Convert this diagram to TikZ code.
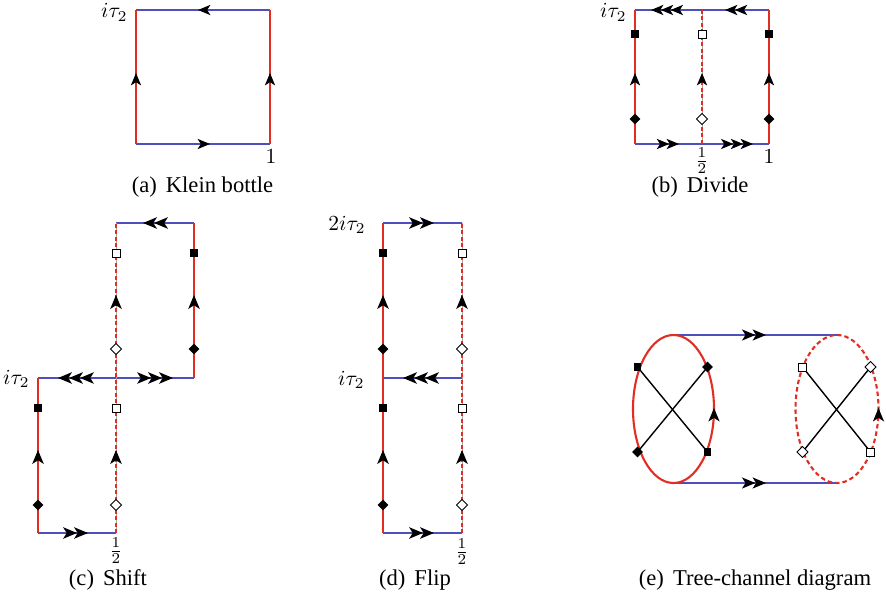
\documentclass[tikz,border=0pt]{standalone}
\usepackage{fontspec}
\setmainfont{Liberation Serif}
\usetikzlibrary{shapes.geometric}
\definecolor{myred}{RGB}{226,45,35}
\definecolor{myblue}{RGB}{78,78,188}
\definecolor{mygray}{RGB}{165,165,165}
\tikzset{
  redl/.style={draw=myred, line width=2.4pt},
  bluel/.style={draw=myblue, line width=2.1pt},
  dashl/.style={draw=myred, line width=2.4pt, dash pattern=on 4pt off 2.5pt,
    preaction={draw=mygray, line width=1pt, solid}},
  crossl/.style={draw=black, line width=1.4pt},
  fsq/.style={rectangle, fill=black, minimum size=7.5pt, inner sep=0pt},
  osq/.style={rectangle, draw=black, fill=white, line width=0.9pt, minimum size=8pt, inner sep=0pt},
  fdm/.style={diamond, fill=black, minimum size=11pt, inner sep=0pt},
  odm/.style={diamond, draw=black, fill=white, line width=0.9pt, minimum size=11.5pt, inner sep=0pt},
  pics/tips/.style={code={
    \foreach \k [evaluate=\k as \d using -(\k-1)*9.8] in {1,...,#1}
      {\fill[black] (\d,0) -- (\d-12.5,5.2) -- (\d-9.2,0) -- (\d-12.5,-5.2) -- cycle;}
  }},
  lab/.style={font=\fontsize{10}{12}\selectfont, inner sep=0pt, scale=2.15, transform shape},
  captxt/.style={font=\fontsize{22.6}{27}\selectfont, inner sep=0pt, anchor=base},
}
\begin{document}
\begin{tikzpicture}[x=1pt,y=-1pt]
\useasboundingbox (0,0) rectangle (886,596);

% ---------------- (a) Klein bottle
\coordinate (a00) at (136,144); \coordinate (a10) at (270,144);
\coordinate (a01) at (136,10);  \coordinate (a11) at (270,10);
\draw[bluel] (a00) -- (a10);
\draw[bluel] (a01) -- (a11);
\draw[redl] (a00) -- (a01);
\draw[redl] (a10) -- (a11);
\pic[rotate=180] at (198,10) {tips=1};
\pic at (210,144) {tips=1};
\pic[rotate=90] at (136,73) {tips=1};
\pic[rotate=90] at (270,73) {tips=1};
\node[lab, anchor=base east] (la1) at (128,18) {$i\tau_2$};
\node[lab, anchor=base] (la2) at (271,164) {$1$};
\node[captxt] (capa) at (202.5,193) {(a)\hspace{0.4em}Klein bottle};

% ---------------- (b) Divide
\coordinate (b00) at (635,144); \coordinate (bm0) at (702,144); \coordinate (b10) at (769,144);
\coordinate (b01) at (635,10);  \coordinate (bm1) at (702,10);  \coordinate (b11) at (769,10);
\draw[bluel] (b00) -- (b10);
\draw[bluel] (b01) -- (b11);
\draw[redl] (b00) -- (b01);
\draw[redl] (b10) -- (b11);
\draw[dashl] (bm0) -- (bm1);
\pic[rotate=180] at (651,10) {tips=3};
\pic[rotate=180] at (725,10) {tips=2};
\pic at (679,144) {tips=2};
\pic at (753,144) {tips=3};
\pic[rotate=90] at (635,73) {tips=1};
\pic[rotate=90] at (702,73) {tips=1};
\pic[rotate=90] at (769,73) {tips=1};
\node[fsq] (bs1) at (635,34) {};
\node[osq] (bs2) at (702,34) {};
\node[fsq] (bs3) at (769,34) {};
\node[fdm] (bd1) at (635,119) {};
\node[odm] (bd2) at (702,119) {};
\node[fdm] (bd3) at (769,119) {};
\node[lab, anchor=base east] (lb1) at (627,18) {$i\tau_2$};
\node[lab] (lb2) at (702,161) {$\frac{1}{2}$};
\node[lab, anchor=base] (lb3) at (769,164) {$1$};
\node[captxt] (capb) at (700,193) {(b)\hspace{0.4em}Divide};

% ---------------- (c) Shift
\coordinate (c00) at (38,533);  \coordinate (c10) at (116,533);
\coordinate (c01) at (38,378);  \coordinate (c11) at (116,378); \coordinate (c21) at (194,378);
\coordinate (c12) at (116,223); \coordinate (c22) at (194,223);
\draw[bluel] (c00) -- (c10);
\draw[bluel] (c01) -- (c21);
\draw[bluel] (c12) -- (c22);
\draw[redl] (c00) -- (c01);
\draw[redl] (c21) -- (c22);
\draw[dashl] (c10) -- (c12);
\pic[rotate=180, scale=1.12] at (143,223) {tips=2};
\pic[rotate=180, scale=1.12] at (58,378) {tips=3};
\pic[scale=1.12] at (173,378) {tips=3};
\pic[scale=1.12] at (88,533) {tips=2};
\pic[rotate=90, scale=1.12] at (116,295) {tips=1};
\pic[rotate=90, scale=1.12] at (194,295) {tips=1};
\pic[rotate=90, scale=1.12] at (38,450) {tips=1};
\pic[rotate=90, scale=1.12] at (116,450) {tips=1};
\node[osq] (cs1) at (116,253) {};
\node[fsq] (cs2) at (194,253) {};
\node[odm] (cd1) at (116,349) {};
\node[fdm] (cd2) at (194,349) {};
\node[fsq] (cs3) at (38,408) {};
\node[osq] (cs4) at (116,408) {};
\node[fdm] (cd3) at (38,505) {};
\node[odm] (cd4) at (116,505) {};
\node[lab, anchor=base east] (lc1) at (30,384) {$i\tau_2$};
\node[lab] (lc2) at (116,551) {$\frac{1}{2}$};
\node[captxt] (capc) at (108,585) {(c)\hspace{0.4em}Shift};

% ---------------- (d) Flip
\coordinate (d00) at (383,533); \coordinate (d10) at (462,533);
\coordinate (d01) at (383,378); \coordinate (d11) at (462,378);
\coordinate (d02) at (383,223); \coordinate (d12) at (462,223);
\draw[bluel] (d00) -- (d10);
\draw[bluel] (d01) -- (d11);
\draw[bluel] (d02) -- (d12);
\draw[redl] (d00) -- (d02);
\draw[dashl] (d10) -- (d12);
\pic[scale=1.12] at (434,223) {tips=2};
\pic[rotate=180, scale=1.12] at (403,378) {tips=3};
\pic[scale=1.12] at (434,533) {tips=2};
\pic[rotate=90, scale=1.12] at (383,295) {tips=1};
\pic[rotate=90, scale=1.12] at (462,295) {tips=1};
\pic[rotate=90, scale=1.12] at (383,450) {tips=1};
\pic[rotate=90, scale=1.12] at (462,450) {tips=1};
\node[fsq] (ds1) at (383,253) {};
\node[osq] (ds2) at (462,253) {};
\node[fdm] (dd1) at (383,349) {};
\node[odm] (dd2) at (462,349) {};
\node[fsq] (ds3) at (383,408) {};
\node[osq] (ds4) at (462,408) {};
\node[fdm] (dd3) at (383,505) {};
\node[odm] (dd4) at (462,505) {};
\node[lab, anchor=base east] (ld1) at (366,230) {$2i\tau_2$};
\node[lab, anchor=base east] (ld2) at (365,385) {$i\tau_2$};
\node[lab] (ld3) at (462,552) {$\frac{1}{2}$};
\node[captxt] (capd) at (415,585) {(d)\hspace{0.4em}Flip};

% ---------------- (e) Tree-channel diagram
\coordinate (eLc) at (673.5,409); \coordinate (eRc) at (837,409);
\coordinate (eLt) at (673.5,335); \coordinate (eRt) at (837,335);
\coordinate (eLb) at (673.5,483); \coordinate (eRb) at (837,483);
\draw[bluel] (eLt) -- (eRt);
\draw[bluel] (eLb) -- (eRb);
\draw[draw=myred, line width=2.1pt] (eLc) ellipse [x radius=40.5, y radius=74];
\draw[draw=myred, line width=2.1pt, dash pattern=on 4.5pt off 3pt] (eRc) ellipse [x radius=41.5, y radius=74];
\pic[scale=1.08] at (766,335) {tips=2};
\pic[scale=1.08] at (766,483) {tips=2};
\pic[rotate=90, scale=1.08] at (714,408) {tips=1};
\pic[rotate=90, scale=1.08] at (878.5,408) {tips=1};
\coordinate (eL1) at (637.5,367); \coordinate (eL2) at (707.5,367);
\coordinate (eL3) at (637.5,452); \coordinate (eL4) at (707.5,452);
\coordinate (eR1) at (802.5,367); \coordinate (eR2) at (870.5,367);
\coordinate (eR3) at (802.5,452); \coordinate (eR4) at (870.5,452);
\draw[crossl] (eL1) -- (eL4);
\draw[crossl] (eL2) -- (eL3);
\draw[crossl] (eR1) -- (eR4);
\draw[crossl] (eR2) -- (eR3);
\node[fsq] (es1) at (eL1) {};
\node[fdm] (ed1) at (eL2) {};
\node[fdm] (ed2) at (eL3) {};
\node[fsq] (es2) at (eL4) {};
\node[osq] (es3) at (eR1) {};
\node[odm] (ed3) at (eR2) {};
\node[odm] (ed4) at (eR3) {};
\node[osq] (es4) at (eR4) {};
\node[captxt] (cape) at (755,585) {(e)\hspace{0.4em}Tree-channel diagram};
\end{tikzpicture}
\end{document}
